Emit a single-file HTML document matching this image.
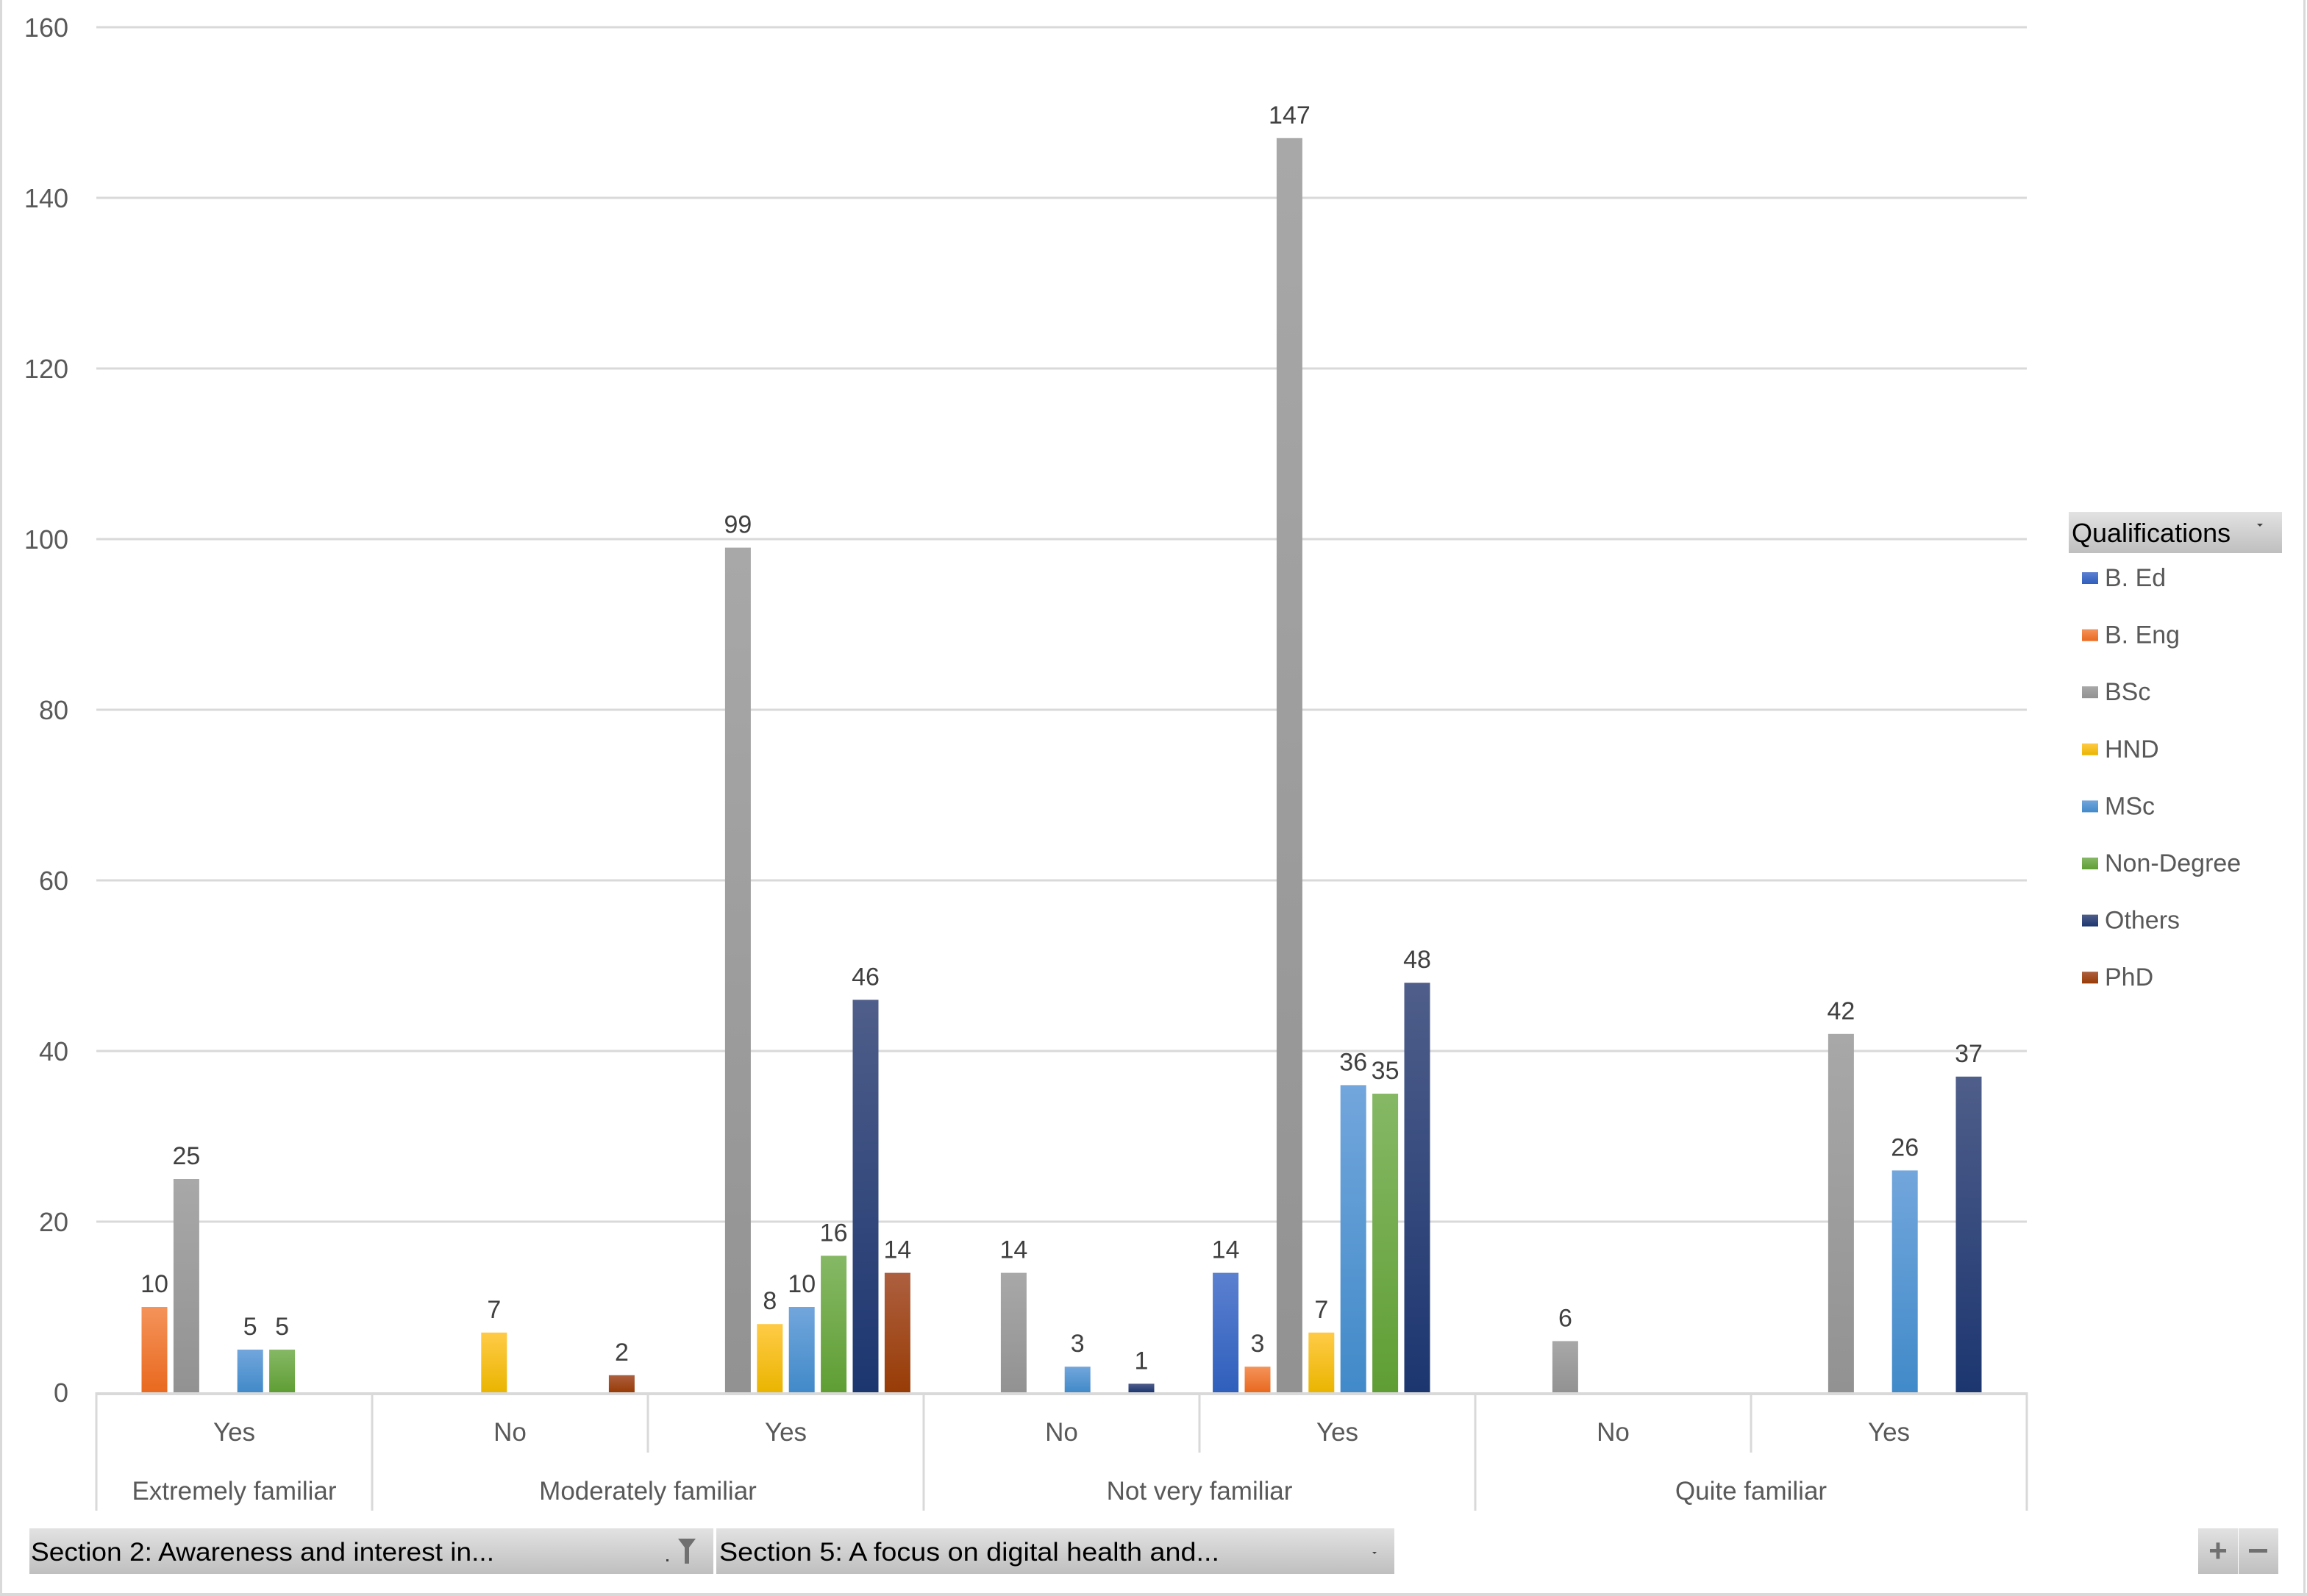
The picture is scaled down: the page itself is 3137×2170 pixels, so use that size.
<!DOCTYPE html>
<html><head><meta charset="utf-8"><style>
html,body{margin:0;padding:0;background:#fff}
svg{display:block;font-family:"Liberation Sans",sans-serif}
</style></head><body>
<svg id="chart" width="3137" height="2170" viewBox="0 0 3137 2170" xmlns="http://www.w3.org/2000/svg">
<defs>
<linearGradient id="btn" x1="0" y1="0" x2="0" y2="1"><stop offset="0" stop-color="#e2e2e2"/><stop offset="1" stop-color="#bfbfbf"/></linearGradient>
</defs>
<rect x="0" y="0" width="3137" height="2170" fill="#fff"/>
<line x1="1.5" y1="0" x2="1.5" y2="2170" stroke="#d9d9d9" stroke-width="3"/>
<line x1="3133.5" y1="0" x2="3133.5" y2="2170" stroke="#d9d9d9" stroke-width="3"/>
<line x1="0" y1="2168" x2="3137" y2="2168" stroke="#d9d9d9" stroke-width="4"/>
<g id="grid"></g>
<g id="yticks"></g>
<g id="bars"></g>
<g id="labels"></g>
<g id="xaxis"></g>
<g>
  <rect x="2813" y="696" width="290" height="56" fill="url(#btn)"/>
  <text x="2817" y="737" font-size="36" fill="#000">Qualifications</text>
  <path d="M3069 712 l8 0 l-4 4 z" fill="#404040"/>
  <g id="legend-items"></g>
</g>
<g>
  <rect x="40" y="2078" width="930" height="62" fill="url(#btn)"/>
  <text x="42" y="2122" font-size="35" fill="#000" textLength="630" lengthAdjust="spacingAndGlyphs">Section 2: Awareness and interest in...</text>
  <path d="M922 2092 h24 l-9 12 v22 h-6 v-22 z" fill="#707070"/>
  <rect x="906" y="2120" width="3" height="3" fill="#404040"/>
  <rect x="974" y="2078" width="922" height="62" fill="url(#btn)"/>
  <text x="978" y="2122" font-size="35" fill="#000" textLength="680" lengthAdjust="spacingAndGlyphs">Section 5: A focus on digital health and...</text>
  <path d="M1866 2110 l6 0 l-3 3 z" fill="#404040"/>
  <rect x="2989" y="2078" width="54" height="62" fill="url(#btn)"/>
  <text x="3016" y="2123" font-size="44" font-weight="bold" fill="#707070" text-anchor="middle">+</text>
  <rect x="3044" y="2078" width="54" height="62" fill="url(#btn)"/>
  <rect x="3058" y="2106" width="25" height="5" fill="#707070"/>
</g>
</svg>
<script>
const categories = ["Yes","No","Yes","No","Yes","No","Yes"];
const groups = ["Extremely familiar","Moderately familiar","Not very familiar","Quite familiar"];
const groupSpans = [1,2,2,2];
const seriesNames = ["B. Ed","B. Eng","BSc","HND","MSc","Non-Degree","Others","PhD"];
const seriesColors = [["#5b80d0","#2f5fbc"],["#f4935a","#e9691f"],["#a8a8a8","#929292"],["#ffcb47","#eab500"],["#72a6dc","#418ac9"],["#86b865","#5f9e34"],["#4f5e8a","#1c3670"],["#ad5f3f","#983c06"]];
const sBEd = [null,null,null,null,14,null,null];
const sBEng = [10,null,null,null,3,null,null];
const sBSc = [25,null,99,14,147,6,42];
const sHND = [null,7,8,null,7,null,null];
const sMSc = [5,null,10,3,36,null,26];
const sNonDeg = [5,null,16,null,35,null,null];
const sOthers = [null,null,46,1,48,null,37];
const sPhD = [null,2,14,null,null,null,null];
const seriesValues = [sBEd,sBEng,sBSc,sHND,sMSc,sNonDeg,sOthers,sPhD];
const yTicks = [0,20,40,60,80,100,120,140,160];

const NS="http://www.w3.org/2000/svg";
const X0=131, X1=2756, Y0=1893, YTOP=37, YMAX=160;
const band=(X1-X0)/categories.length;
const slot=43.4, barW=35, pad=(band-slot*seriesNames.length)/2;
function y(v){return Y0-(v/YMAX)*(Y0-YTOP);}
function xBar(c,s){return X0+c*band+pad+s*slot+(slot-barW)/2;}
function mk(tag,attrs,parent){const e=document.createElementNS(NS,tag);for(const k in attrs)e.setAttribute(k,attrs[k]);parent.appendChild(e);return e;}
const defs=document.querySelector('defs');
seriesColors.forEach((c,i)=>{const g=mk('linearGradient',{id:'g'+i,x1:0,y1:0,x2:0,y2:1},defs);mk('stop',{offset:0,'stop-color':c[0]},g);mk('stop',{offset:1,'stop-color':c[1]},g);});

const grid=document.getElementById('grid'), yt=document.getElementById('yticks');
yTicks.forEach(t=>{
  if(t>0){const l=mk('line',{x1:X0,x2:X1,y1:y(t),y2:y(t),stroke:'#d9d9d9','stroke-width':3},grid);
  
  }
  const tx=mk('text',{x:93,y:y(t)+13,'font-size':36,fill:'#595959','text-anchor':'end'},yt);
  tx.textContent=t;
  
  
});

const bars=document.getElementById('bars'), labels=document.getElementById('labels');
seriesValues.forEach((arr,s)=>{arr.forEach((v,c)=>{
  if(v==null)return;
  const x=xBar(c,s);
  const r=mk('rect',{x:x,y:y(v),width:barW,height:Y0-y(v),fill:'url(#g'+s+')'},bars);
  
  
  const t=mk('text',{x:x+barW/2,y:y(v)-20,'font-size':34,fill:'#404040','text-anchor':'middle'},labels);
  t.textContent=v;
  
  
});});

const xa=document.getElementById('xaxis');
const ax=mk('line',{x1:X0,x2:X1,y1:Y0+2,y2:Y0+2,stroke:'#d9d9d9','stroke-width':4},xa);


categories.forEach((c,i)=>{
  const t=mk('text',{x:X0+band*(i+0.5),y:1959,'font-size':35,fill:'#595959','text-anchor':'middle'},xa);
  t.textContent=c;
  
  
});
let idx=0;
const bounds=[0];
groups.forEach((g,i)=>{
  const start=idx; idx+=groupSpans[i]; bounds.push(idx);
  const t=mk('text',{x:X0+band*(start+idx)/2,y:2039,'font-size':35,fill:'#595959','text-anchor':'middle'},xa);
  t.textContent=g;
  
  
});
for(let i=0;i<=categories.length;i++){
  const isB=bounds.includes(i);
  const l=mk('line',{x1:X0+band*i,x2:X0+band*i,y1:Y0,y2:isB?2054:1975,stroke:'#d9d9d9','stroke-width':3},xa);
  
  
}

const li=document.getElementById('legend-items');
seriesNames.forEach((n,i)=>{
  const yy=794+i*77.6;
  const r=mk('rect',{x:2831,y:yy-16,width:22,height:16,fill:'url(#g'+i+')'},li);
  
  
  const t=mk('text',{x:2862,y:yy+3,'font-size':34,fill:'#595959'},li);
  t.textContent=n;
  
  
});
</script>
</body></html>
